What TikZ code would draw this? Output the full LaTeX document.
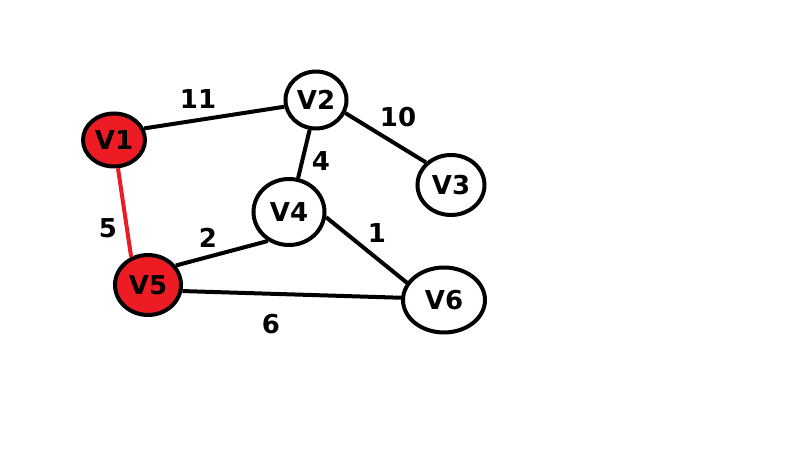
\documentclass[tikz,border=0pt]{standalone}
\usepackage{fontspec}
\setmainfont{DejaVu Sans}
\usetikzlibrary{shapes.geometric}
\definecolor{paintred}{HTML}{ED1C24}
\tikzset{
  vert/.style={ellipse, draw=black, line width=4pt, fill=white, inner sep=0pt,
    font=\fontsize{26}{26}\selectfont\bfseries},
  hot/.style={vert, fill=paintred},
  edge/.style={line width=4pt, draw=black},
  hotedge/.style={line width=4pt, draw=paintred},
  wlabel/.style={font=\fontsize{26}{26}\selectfont\bfseries, inner sep=0pt},
}
\begin{document}
\begin{tikzpicture}[x=1pt, y=-1pt]
\useasboundingbox (0,0) rectangle (807,454);
\node[hot, minimum width=62pt, minimum height=53pt] (v1) at (114,140) {V1};
\node[vert, minimum width=61pt, minimum height=57pt] (v2) at (316,100) {V2};
\node[vert, minimum width=67pt, minimum height=60pt] (v3) at (451,185) {V3};
\node[vert, minimum width=71pt, minimum height=66pt] (v4) at (289,212) {V4};
\node[hot, minimum width=66pt, minimum height=60pt] (v5) at (148,285) {V5};
\node[vert, minimum width=82pt, minimum height=65pt] (v6) at (444,300) {V6};
\draw[edge] (v1.21) -- (v2.192);
\draw[edge] (v2.336) -- (v3.138);
\draw[edge] (v2.258) -- (v4.75);
\draw[edge] (v4.234) -- (v5.35);
\draw[edge] (v4.352) -- (v6.155);
\draw[edge] (v5.350) -- (v6.177);
\draw[hotedge] (v1.278) -- (v5.121);
\node[wlabel] (l11) at (198,99) {11};
\node[wlabel] (l10) at (398,117) {10};
\node[wlabel] (l4) at (321,161) {4};
\node[wlabel] (l5) at (108,228) {5};
\node[wlabel] (l2) at (208,238) {2};
\node[wlabel] (l1) at (377,233) {1};
\node[wlabel] (l6) at (271,324) {6};
\end{tikzpicture}
\end{document}
